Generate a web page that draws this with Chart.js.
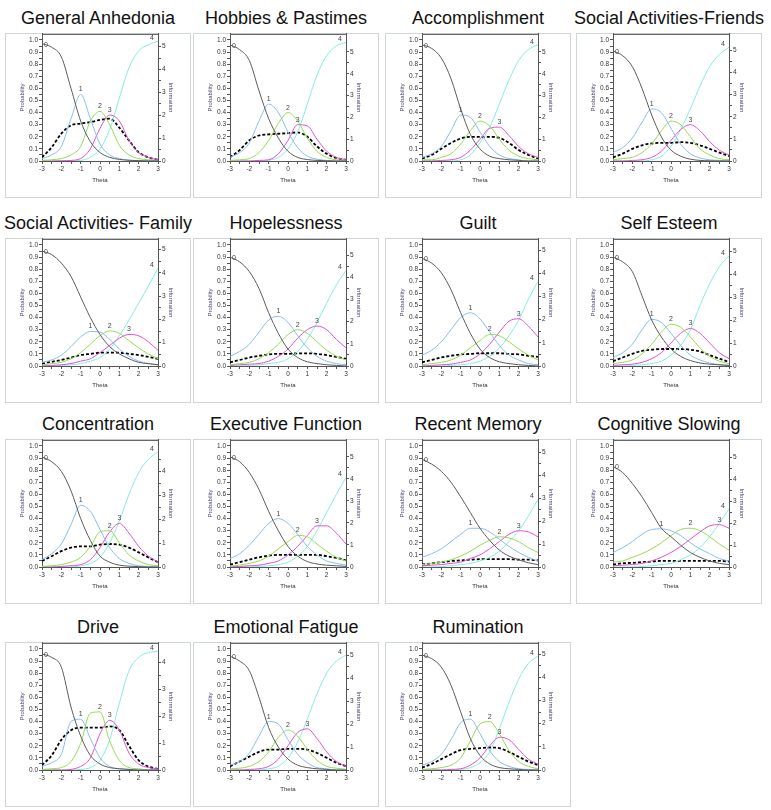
<!DOCTYPE html>
<html lang="en">
<head>
<meta charset="UTF-8">
<title>Category Response Curves</title>
<script src="https://cdn.jsdelivr.net/npm/chart.js"></script>
<style>
  body { margin: 0; padding: 0; background: #fff; font-family: Arial, "Liberation Sans", sans-serif; }
  #grid { position: relative; width: 771px; height: 810px; }
  .title { position: absolute; width: 240px; text-align: center; font-size: 18px; line-height: 20px; color: #111; white-space: nowrap; }
  .box { position: absolute; width: 184px; height: 163px; border: 1px solid #cfd6d6; }
  .box canvas { display: block; margin-top: -5px; }
</style>
</head>
<body>
<div id="grid"></div>
<script>
// theta grid the curves were read at
const theta = [-3, -2.5, -2, -1.5, -1, -0.5, 0, 0.5, 1, 1.5, 2, 2.5, 3];

const titles = ['General Anhedonia', 'Hobbies & Pastimes', 'Accomplishment', 'Social Activities-Friends',
    'Social Activities- Family', 'Hopelessness', 'Guilt', 'Self Esteem',
    'Concentration', 'Executive Function', 'Recent Memory', 'Cognitive Slowing',
    'Drive', 'Emotional Fatigue', 'Rumination'];

// right (information) axis upper bound per panel
const infoMax = [5.56, 5.83, 5.83, 5.74, 5.45, 5.73, 5.48, 5.53, 5.3, 5.77, 5.55, 5.8, 4.72, 5.53, 5.48];

// probability of response category 0..4, one row per panel
const cat0 = [
    [0.97,0.94,0.86,0.6,0.33,0.16,0.07,0.03,0.013,0.006,0.003,0.001,0],
    [0.96,0.92,0.83,0.58,0.35,0.19,0.08,0.03,0.012,0.005,0.002,0,0],
    [0.96,0.93,0.85,0.68,0.43,0.22,0.1,0.04,0.02,0.01,0.005,0,0],
    [0.91,0.87,0.78,0.6,0.38,0.2,0.09,0.04,0.015,0.005,0.002,0,0],
    [0.95,0.92,0.85,0.74,0.57,0.4,0.26,0.16,0.1,0.06,0.03,0.02,0.01],
    [0.9,0.86,0.78,0.64,0.44,0.27,0.14,0.07,0.035,0.02,0.01,0.005,0],
    [0.89,0.85,0.77,0.63,0.44,0.27,0.14,0.07,0.035,0.02,0.01,0.005,0],
    [0.9,0.86,0.78,0.58,0.38,0.24,0.14,0.08,0.045,0.025,0.015,0.01,0.005],
    [0.91,0.87,0.79,0.63,0.4,0.22,0.09,0.04,0.015,0.007,0.003,0,0],
    [0.91,0.87,0.78,0.64,0.46,0.3,0.17,0.09,0.045,0.025,0.015,0.01,0.005],
    [0.89,0.85,0.79,0.7,0.58,0.45,0.32,0.22,0.14,0.09,0.06,0.035,0.02],
    [0.83,0.78,0.69,0.58,0.45,0.32,0.25,0.18,0.12,0.08,0.05,0.03,0.02],
    [0.96,0.93,0.85,0.52,0.28,0.12,0.05,0.02,0.01,0.005,0,0,0],
    [0.94,0.9,0.82,0.6,0.35,0.19,0.09,0.04,0.02,0.01,0.005,0,0],
    [0.95,0.92,0.85,0.7,0.48,0.26,0.12,0.05,0.02,0.01,0.005,0,0]
];
const cat1 = [
    [0.02,0.05,0.12,0.35,0.55,0.35,0.14,0.05,0.02,0.007,0.002,0,0],
    [0.03,0.07,0.15,0.33,0.47,0.4,0.24,0.11,0.04,0.015,0.005,0,0],
    [0.03,0.06,0.12,0.25,0.38,0.36,0.24,0.12,0.05,0.02,0.01,0,0],
    [0.07,0.11,0.19,0.32,0.43,0.4,0.27,0.14,0.06,0.025,0.01,0.005,0],
    [0.03,0.05,0.09,0.16,0.24,0.285,0.28,0.22,0.14,0.08,0.04,0.02,0.01],
    [0.08,0.12,0.18,0.28,0.38,0.41,0.36,0.25,0.15,0.08,0.04,0.02,0.01],
    [0.09,0.13,0.2,0.3,0.4,0.44,0.39,0.28,0.17,0.09,0.05,0.02,0.01],
    [0.07,0.11,0.18,0.3,0.385,0.36,0.27,0.17,0.09,0.05,0.025,0.01,0.005],
    [0.06,0.11,0.19,0.35,0.51,0.46,0.31,0.16,0.07,0.03,0.01,0.005,0],
    [0.07,0.11,0.18,0.27,0.36,0.4,0.36,0.27,0.17,0.1,0.05,0.03,0.015],
    [0.08,0.11,0.15,0.21,0.27,0.32,0.32,0.29,0.23,0.17,0.12,0.08,0.05],
    [0.12,0.16,0.21,0.27,0.31,0.315,0.3,0.26,0.2,0.15,0.11,0.07,0.05],
    [0.03,0.06,0.13,0.4,0.42,0.26,0.1,0.03,0.01,0.005,0,0,0],
    [0.04,0.07,0.14,0.28,0.4,0.38,0.25,0.13,0.06,0.02,0.01,0,0],
    [0.04,0.07,0.13,0.25,0.39,0.42,0.3,0.16,0.07,0.03,0.01,0.005,0]
];
const cat2 = [
    [0.005,0.01,0.02,0.05,0.12,0.33,0.41,0.3,0.13,0.05,0.02,0.01,0.003],
    [0.005,0.01,0.02,0.07,0.17,0.31,0.4,0.33,0.19,0.08,0.03,0.01,0.005],
    [0.01,0.01,0.03,0.06,0.14,0.25,0.33,0.29,0.18,0.09,0.04,0.02,0.01],
    [0.01,0.02,0.03,0.07,0.14,0.25,0.33,0.3,0.2,0.1,0.05,0.02,0.01],
    [0.01,0.02,0.03,0.06,0.11,0.18,0.25,0.29,0.27,0.21,0.15,0.1,0.06],
    [0.01,0.02,0.03,0.06,0.11,0.18,0.26,0.3,0.27,0.2,0.13,0.08,0.05],
    [0.01,0.02,0.03,0.05,0.09,0.15,0.21,0.26,0.25,0.2,0.14,0.09,0.05],
    [0.02,0.03,0.05,0.1,0.18,0.28,0.345,0.32,0.24,0.15,0.08,0.04,0.02],
    [0.005,0.01,0.02,0.04,0.08,0.17,0.29,0.3,0.2,0.1,0.05,0.02,0.01],
    [0.01,0.015,0.03,0.05,0.09,0.15,0.21,0.26,0.25,0.19,0.13,0.08,0.05],
    [0.02,0.03,0.04,0.06,0.09,0.13,0.18,0.22,0.25,0.24,0.21,0.16,0.12],
    [0.04,0.05,0.08,0.11,0.15,0.2,0.26,0.31,0.32,0.3,0.25,0.19,0.14],
    [0.005,0.01,0.02,0.07,0.22,0.47,0.48,0.24,0.08,0.02,0.01,0,0],
    [0.01,0.015,0.03,0.07,0.15,0.27,0.33,0.28,0.17,0.08,0.03,0.015,0.005],
    [0.005,0.01,0.02,0.04,0.1,0.24,0.38,0.4,0.3,0.16,0.07,0.03,0.01]
];
const cat3 = [
    [0,0,0.002,0.005,0.02,0.1,0.27,0.38,0.33,0.17,0.07,0.03,0.01],
    [0,0,0,0.005,0.01,0.06,0.17,0.3,0.29,0.18,0.08,0.03,0.01],
    [0,0,0.005,0.01,0.03,0.09,0.18,0.27,0.28,0.21,0.12,0.06,0.03],
    [0,0,0.005,0.01,0.03,0.08,0.17,0.26,0.3,0.25,0.16,0.09,0.05],
    [0,0.005,0.01,0.02,0.04,0.06,0.11,0.17,0.23,0.26,0.25,0.2,0.13],
    [0.005,0.01,0.015,0.02,0.04,0.08,0.14,0.23,0.3,0.33,0.3,0.22,0.15],
    [0,0.005,0.01,0.015,0.03,0.05,0.1,0.18,0.28,0.37,0.39,0.33,0.24],
    [0.005,0.01,0.015,0.03,0.06,0.11,0.19,0.27,0.31,0.27,0.19,0.11,0.06],
    [0,0,0.005,0.01,0.02,0.06,0.16,0.29,0.36,0.28,0.17,0.09,0.04],
    [0,0.005,0.01,0.015,0.03,0.05,0.1,0.17,0.26,0.34,0.34,0.28,0.19],
    [0.01,0.015,0.02,0.03,0.04,0.07,0.1,0.15,0.21,0.27,0.3,0.29,0.25],
    [0.01,0.015,0.02,0.03,0.05,0.08,0.12,0.17,0.23,0.29,0.34,0.35,0.32],
    [0,0,0,0.005,0.03,0.1,0.3,0.41,0.33,0.14,0.05,0.02,0.01],
    [0,0,0.005,0.01,0.03,0.09,0.2,0.31,0.34,0.26,0.15,0.07,0.03],
    [0,0,0,0.005,0.01,0.04,0.1,0.2,0.27,0.25,0.17,0.09,0.05]
];
const cat4 = [
    [0,0,0,0.001,0.005,0.03,0.1,0.26,0.52,0.77,0.91,0.96,0.99],
    [0,0,0,0,0.005,0.03,0.1,0.24,0.47,0.71,0.87,0.95,0.98],
    [0,0,0,0,0.01,0.05,0.15,0.28,0.47,0.67,0.83,0.92,0.96],
    [0,0,0,0,0.01,0.04,0.12,0.26,0.43,0.62,0.78,0.88,0.94],
    [0,0,0.005,0.01,0.02,0.04,0.07,0.14,0.25,0.38,0.52,0.66,0.81],
    [0,0,0.005,0.01,0.02,0.03,0.06,0.12,0.22,0.36,0.52,0.67,0.79],
    [0,0,0,0.005,0.01,0.02,0.04,0.08,0.15,0.25,0.38,0.55,0.7],
    [0,0,0.005,0.01,0.02,0.04,0.09,0.17,0.3,0.5,0.68,0.82,0.91],
    [0,0,0,0,0.01,0.03,0.08,0.2,0.38,0.6,0.78,0.89,0.95],
    [0,0,0,0.005,0.01,0.02,0.04,0.09,0.17,0.3,0.45,0.6,0.74],
    [0,0,0.005,0.01,0.02,0.03,0.05,0.08,0.13,0.21,0.3,0.42,0.56],
    [0,0,0,0.005,0.01,0.02,0.03,0.06,0.1,0.16,0.25,0.36,0.48],
    [0,0,0,0,0.005,0.02,0.08,0.25,0.55,0.82,0.93,0.97,0.98],
    [0,0,0,0,0.01,0.03,0.1,0.23,0.42,0.63,0.8,0.9,0.95],
    [0,0,0,0,0.005,0.02,0.06,0.15,0.34,0.56,0.75,0.88,0.94]
];
// test information (right axis)
const info = [
    [0.16,0.6,1.2,1.56,1.64,1.7,1.8,1.85,1.46,0.9,0.38,0.16,0.05],
    [0.17,0.5,0.95,1.17,1.22,1.25,1.28,1.31,1.11,0.67,0.33,0.14,0.06],
    [0.11,0.28,0.56,0.83,1.03,1.11,1.11,1.11,1.06,0.83,0.5,0.28,0.11],
    [0.16,0.33,0.55,0.71,0.79,0.82,0.82,0.85,0.82,0.71,0.55,0.38,0.22],
    [0.1,0.18,0.26,0.36,0.47,0.52,0.57,0.57,0.57,0.52,0.47,0.39,0.31],
    [0.16,0.27,0.38,0.46,0.52,0.55,0.55,0.57,0.57,0.55,0.49,0.41,0.33],
    [0.16,0.26,0.37,0.44,0.5,0.52,0.55,0.55,0.55,0.52,0.5,0.44,0.39],
    [0.21,0.37,0.53,0.66,0.71,0.74,0.74,0.74,0.71,0.63,0.47,0.32,0.18],
    [0.25,0.45,0.66,0.81,0.86,0.86,0.93,0.96,0.93,0.81,0.61,0.4,0.2],
    [0.11,0.22,0.33,0.44,0.52,0.55,0.55,0.55,0.55,0.55,0.49,0.41,0.3],
    [0.11,0.16,0.21,0.26,0.29,0.32,0.34,0.34,0.34,0.34,0.32,0.32,0.29],
    [0.11,0.17,0.19,0.22,0.25,0.28,0.28,0.28,0.28,0.28,0.28,0.28,0.25],
    [0.18,0.54,1.12,1.48,1.57,1.57,1.57,1.62,1.48,0.9,0.36,0.13,0.04],
    [0.16,0.37,0.58,0.79,0.89,0.89,0.92,0.92,0.89,0.74,0.53,0.32,0.16],
    [0.1,0.26,0.47,0.68,0.86,0.91,0.94,0.97,0.94,0.78,0.57,0.37,0.21]
];

const catColors = ['#5b5b5b', '#86bdf0', '#93dc50', '#e24fd2', '#86ebe3'];
const FONT = 'Arial, "Liberation Sans", sans-serif';
const colLeft = [5, 193, 385, 576];
const rowTop = [33, 238, 439, 642];

// draws the numbers 0..4 next to each curve and the top frame line
const curveLabels = {
    id: 'curveLabels',
    afterDatasetsDraw(chart) {
        const ctx = chart.ctx;
        const xs = chart.scales.x, ys = chart.scales.y;
        const a = chart.chartArea;
        ctx.save();
        ctx.strokeStyle = '#555';
        ctx.lineWidth = 1;
        ctx.beginPath();
        ctx.moveTo(a.left, a.top + 0.5);
        ctx.lineTo(a.right, a.top + 0.5);
        ctx.stroke();
        ctx.font = '7px ' + FONT;
        ctx.fillStyle = '#444';
        ctx.textAlign = 'center';
        ctx.textBaseline = 'middle';
        for (let k = 0; k < 5; k++) {
            const d = chart.data.datasets[k].data;
            let j = 0;
            if (k === 4) j = d.length - 1;
            else if (k > 0) d.forEach((p, i) => { if (p.y > d[j].y) j = i; });
            let px = xs.getPixelForValue(d[j].x);
            let py = ys.getPixelForValue(d[j].y);
            if (k === 0) { px += 4; py += 1; }
            else if (k === 4) { px -= 6; py -= 3; }
            else py -= 5;
            ctx.fillText(String(k), px, py);
        }
        ctx.restore();
    }
};

function pts(arr) {
    return theta.map((t, j) => ({ x: t, y: arr[j] }));
}

function keepSteps(step, top) {
    return scale => {
        scale.ticks = scale.ticks.filter(t =>
            Math.abs(t.value / step - Math.round(t.value / step)) < 1e-6 && t.value <= top + 1e-6);
    };
}

const grid = document.getElementById('grid');

titles.forEach((name, i) => {
    const left = colLeft[i % 4];
    const top = rowTop[Math.floor(i / 4)];

    const title = document.createElement('div');
    title.className = 'title';
    title.style.left = (left + 93 - 120) + 'px';
    title.style.top = (top - 25) + 'px';
    title.textContent = name;
    grid.appendChild(title);

    const box = document.createElement('div');
    box.className = 'box';
    box.style.left = left + 'px';
    box.style.top = top + 'px';
    const canvas = document.createElement('canvas');
    canvas.width = 184;
    canvas.height = 168;
    box.appendChild(canvas);
    grid.appendChild(box);

    const cats = [cat0[i], cat1[i], cat2[i], cat3[i], cat4[i]];
    const datasets = cats.map((c, k) => ({
        data: pts(c),
        borderColor: catColors[k],
        borderWidth: 1,
        pointRadius: 0,
        cubicInterpolationMode: 'monotone',
        yAxisID: 'y'
    }));
    datasets.push({
        data: pts(info[i]),
        borderColor: '#000',
        borderWidth: 1.8,
        borderDash: [3, 2],
        pointRadius: 0,
        cubicInterpolationMode: 'monotone',
        yAxisID: 'y2'
    });

    const tickFont = { family: FONT, size: 6.5 };
    const titleFont = { family: FONT, size: 6 };

    new Chart(canvas.getContext('2d'), {
        type: 'line',
        data: { datasets: datasets },
        options: {
            responsive: false,
            animation: false,
            devicePixelRatio: 1,
            layout: { padding: { top: 1, left: 0, right: 0, bottom: 0 } },
            plugins: { legend: { display: false }, tooltip: { enabled: false } },
            scales: {
                x: {
                    type: 'linear', min: -3, max: 3,
                    afterBuildTicks: keepSteps(0.5, 3),
                    afterFit: s => { s.height = 36; },
                    ticks: { stepSize: 0.5, autoSkip: false, maxRotation: 0, padding: 1, color: '#333', font: tickFont,
                        callback: v => Number.isInteger(v) ? String(v) : '' },
                    grid: { drawOnChartArea: false, tickLength: 3, color: '#555' },
                    border: { color: '#555' },
                    title: { display: true, text: 'Theta', color: '#333', font: titleFont, padding: { top: 0, bottom: 13 } }
                },
                y: {
                    position: 'left', min: 0, max: 1.05,
                    afterBuildTicks: keepSteps(0.05, 1.0),
                    afterFit: s => { s.width = 36; },
                    ticks: { stepSize: 0.05, autoSkip: false, padding: 1, color: '#333', font: tickFont,
                        callback: v => Math.abs(v * 10 - Math.round(v * 10)) < 1e-6 ? v.toFixed(1) : '' },
                    grid: { drawOnChartArea: false, tickLength: 3, color: '#555' },
                    border: { color: '#555' },
                    title: { display: true, text: 'Probability', color: '#4b3f72', font: titleFont, padding: { top: 13, bottom: 0 } }
                },
                y2: {
                    position: 'right', min: 0, max: infoMax[i],
                    afterBuildTicks: keepSteps(0.5, infoMax[i]),
                    afterFit: s => { s.width = 32; },
                    ticks: { stepSize: 0.5, autoSkip: false, padding: 1, color: '#333', font: tickFont,
                        callback: v => Number.isInteger(v) ? String(v) : '' },
                    grid: { drawOnChartArea: false, tickLength: 3, color: '#555' },
                    border: { color: '#555' },
                    title: { display: true, text: 'Information', color: '#4b3f72', font: titleFont, padding: { top: 16, bottom: 0 } }
                }
            }
        },
        plugins: [curveLabels]
    });
});
</script>
</body>
</html>
